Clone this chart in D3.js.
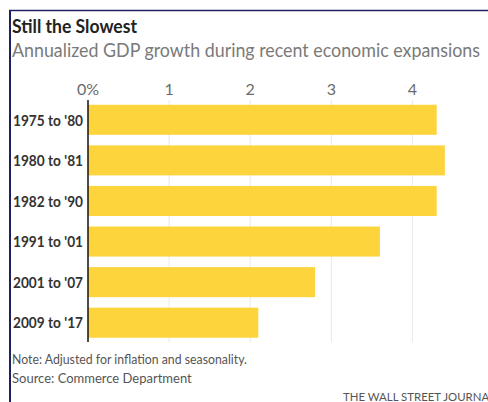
<!DOCTYPE html>
<html>
<head>
<meta charset="utf-8">
<script src="https://cdn.jsdelivr.net/npm/d3@7"></script>
<style>
  body { margin: 0; background: #fff; }
  svg { display: block; font-family: Lato, "Open Sans", sans-serif; }
</style>
</head>
<body>
<script>
var width = 488,
    height = 402;

// data
var periods = ["1975 to '80", "1980 to '81", "1982 to '90", "1991 to '01", "2001 to '07", "2009 to '17"];
var growth = [4.3, 4.4, 4.3, 3.6, 2.8, 2.1];
var tickValues = [0, 1, 2, 3, 4, 5];
var notes = ["Note: Adjusted for inflation and seasonality.", "Source: Commerce Department"];

var svg = d3.select("body").append("svg")
  .attr("width", width)
  .attr("height", height);

// squeeze text to the narrow WSJ face width
function squeeze(sel, target) {
  sel.each(function () {
    var w = this.getComputedTextLength();
    if (w > target) {
      d3.select(this).attr("textLength", target).attr("lengthAdjust", "spacingAndGlyphs");
    }
  });
}
function scaleText(sel, factor) {
  sel.each(function () {
    var w = this.getComputedTextLength();
    d3.select(this).attr("textLength", w * factor).attr("lengthAdjust", "spacingAndGlyphs");
  });
}

// frame
svg.append("line")
  .attr("x1", 9).attr("x2", width)
  .attr("y1", 10.5).attr("y2", 10.5)
  .attr("stroke", "#1d2163")
  .attr("stroke-width", 1.5);
svg.append("line")
  .attr("x1", 10).attr("x2", 10)
  .attr("y1", 10).attr("y2", height)
  .attr("stroke", "#1d2163")
  .attr("stroke-width", 2);

svg.append("text")
  .attr("x", 12)
  .attr("y", 33)
  .attr("font-size", 18)
  .attr("font-weight", 700)
  .attr("fill", "#222")
  .text("Still the Slowest")
  .call(squeeze, 125);

svg.append("text")
  .attr("x", 12)
  .attr("y", 57)
  .attr("font-size", 18.5)
  .attr("fill", "#7a7a7a")
  .text("Annualized GDP growth during recent economic expansions")
  .call(squeeze, 468);

var x = d3.scaleLinear()
  .domain([0, 5])
  .range([88, 493.5]);

var y = d3.scaleBand()
  .domain(periods)
  .range([99.5, 343])
  .paddingInner(0.26)
  .paddingOuter(0.13);

// gridlines
svg.selectAll(".grid")
  .data(tickValues.slice(1))
  .enter().append("line")
  .attr("class", "grid")
  .attr("x1", function (d) { return x(d); })
  .attr("x2", function (d) { return x(d); })
  .attr("y1", 100)
  .attr("y2", 342)
  .attr("stroke", "#e8e8e8")
  .attr("stroke-width", 1);

svg.selectAll(".tick-label")
  .data(tickValues)
  .enter().append("text")
  .attr("class", "tick-label")
  .attr("x", function (d) { return x(d); })
  .attr("y", 95)
  .attr("text-anchor", "middle")
  .attr("font-size", 16)
  .attr("fill", "#6a6a6a")
  .text(function (d) { return d === 0 ? "0%" : d; });

svg.selectAll(".bar")
  .data(growth)
  .enter().append("rect")
  .attr("class", "bar")
  .attr("x", x(0))
  .attr("y", function (d, i) { return y(periods[i]); })
  .attr("width", function (d) { return x(d) - x(0); })
  .attr("height", y.bandwidth())
  .attr("fill", "#fed43c");

svg.append("line")
  .attr("x1", x(0)).attr("x2", x(0))
  .attr("y1", 100).attr("y2", 342)
  .attr("stroke", "#111")
  .attr("stroke-width", 1.5);

var cats = svg.selectAll(".cat")
  .data(periods)
  .enter().append("text")
  .attr("class", "cat")
  .attr("x", 83)
  .attr("y", function (d) { return y(d) + y.bandwidth() / 2; })
  .attr("dy", "0.36em")
  .attr("text-anchor", "end")
  .attr("font-size", 16)
  .attr("font-weight", 700)
  .attr("fill", "#333")
  .text(function (d) { return d; });

var catW = cats.node().getComputedTextLength();
cats.call(scaleText, Math.min(1, 70 / catW));

svg.selectAll(".note")
  .data(notes)
  .enter().append("text")
  .attr("class", "note")
  .attr("x", 12)
  .attr("y", function (d, i) { return 364 + i * 19; })
  .attr("font-size", 13)
  .attr("fill", "#555")
  .text(function (d) { return d; })
  .call(squeeze, 235);

svg.append("text")
  .attr("x", 343)
  .attr("y", 400.5)
  .attr("font-size", 11)
  .attr("fill", "#555")
  .text("THE WALL STREET JOURNAL")
  .call(scaleText, 1)
  .attr("textLength", 152);
</script>
</body>
</html>
